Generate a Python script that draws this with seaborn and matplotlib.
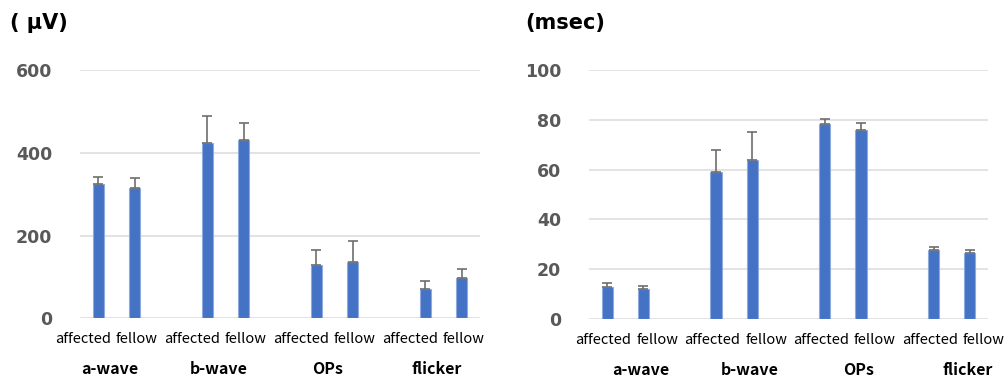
import numpy as np
import pandas as pd
import seaborn as sns
import matplotlib.pyplot as plt

# data
groups = ["a-wave", "b-wave", "OPs", "flicker"]
eyes = ["affected", "fellow"]

amp_mean = [325, 315, 424, 430, 129, 137, 70, 98]      # uV
amp_err = [16, 25, 65, 41, 36, 50, 21, 22]

lat_mean = [13.0, 12.2, 59.1, 64.0, 78.2, 75.9, 27.7, 26.5]   # msec
lat_err = [1.5, 1.2, 8.9, 11.3, 2.0, 2.7, 1.3, 1.2]

sns.set_theme(style="white")
plt.rcParams["font.family"] = ["Noto Sans CJK JP", "DejaVu Sans"]

bar_col = "#4472C4"
grid_col = "#DEDEDE"
tick_col = "#595959"


def make_df(vals, errs):
    rows = []
    for i, g in enumerate(groups):
        for j, e in enumerate(eyes):
            k = i * 2 + j
            rows.append({"group": g, "eye": e, "pos": i * 3 + j,
                         "value": vals[k], "err": errs[k]})
    return pd.DataFrame(rows)


def draw(ax, df, ymax, step, lab_off, grp_off):
    sns.barplot(data=df, x="pos", y="value", native_scale=True, width=0.31,
                color=bar_col, edgecolor="#8FAADC", linewidth=0.8,
                saturation=1, errorbar=None, ax=ax)
    ax.errorbar(df["pos"], df["value"], yerr=[np.zeros(len(df)), df["err"]],
                fmt="none", ecolor="#6E6E6E", elinewidth=1.2, capsize=3.5,
                capthick=1.2, zorder=3)
    ax.set_xlim(-0.5, 10.5)
    ax.set_ylim(0, ymax)
    ax.set_yticks(np.arange(0, ymax + 1, step))
    ax.yaxis.grid(True, color=grid_col, linewidth=1.2)
    ax.set_axisbelow(True)
    for s in ax.spines.values():
        s.set_visible(False)
    ax.set_xticks([])
    ax.set_xlabel("")
    ax.set_ylabel("")
    ax.tick_params(axis="y", length=0, pad=20, labelsize=12.5, labelcolor=tick_col)
    for lab in ax.get_yticklabels():
        lab.set_fontweight("bold")
        lab.set_family("DejaVu Sans")
    trans = ax.get_xaxis_transform()
    for i, g in enumerate(groups):
        ax.text(i * 3 + lab_off[0], -0.085, eyes[0], transform=trans,
                ha="center", va="center", fontsize=10.5, color="black")
        ax.text(i * 3 + 1 + lab_off[1], -0.085, eyes[1], transform=trans,
                ha="center", va="center", fontsize=10.5, color="black")
        ax.text(i * 3 + grp_off, -0.205, g, transform=trans, ha="center",
                va="center", fontsize=11.5, fontweight="bold", color="black")


fig = plt.figure(figsize=(10.08, 3.76), dpi=100)
ax1 = fig.add_axes([80 / 1008, 1 - 318.3 / 376, 400 / 1008, 248.3 / 376])
ax2 = fig.add_axes([589 / 1008, 1 - 319 / 376, 399 / 1008, 249 / 376])

draw(ax1, make_df(amp_mean, amp_err), 600, 200, (-0.42, 0.05), 0.32)
draw(ax2, make_df(lat_mean, lat_err), 100, 20, (-0.1, 0.38), 0.93)

# unit labels above the axes
fig.text(10 / 1008, 1 - 23 / 376, "( μV)", fontsize=15, fontweight="bold",
         family="DejaVu Sans", va="center", ha="left", color="black")
fig.text(525 / 1008, 1 - 23 / 376, "(msec)", fontsize=15, fontweight="bold",
         family="DejaVu Sans", va="center", ha="left", color="black")

fig.savefig("out.png", dpi=100)
